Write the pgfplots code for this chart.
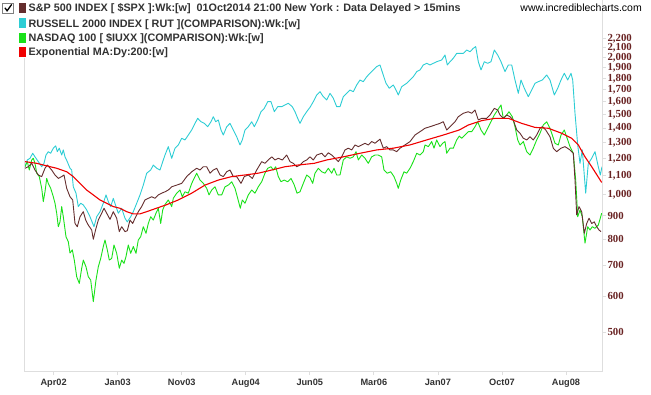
\documentclass[border=0pt]{standalone}
\usepackage{fontspec}
\setmainfont{Liberation Sans}
\newfontfamily\serifb{Liberation Serif}
\usepackage{pgfplots}
\pgfplotsset{compat=1.18}
\definecolor{spx}{RGB}{100,45,45}
\definecolor{rut}{RGB}{45,205,212}
\definecolor{ndx}{RGB}{25,225,25}
\definecolor{ema}{RGB}{240,0,0}
\definecolor{lab}{RGB}{105,35,35}
\definecolor{framec}{RGB}{222,222,222}
\definecolor{txt}{RGB}{50,50,50}
\begin{document}
\begin{tikzpicture}[x=1pt,y=1pt]
\path[use as bounding box] (-24.5,-23) rectangle (626.5,372);
\begin{axis}[at={(0,0)},anchor=south west,scale only axis,width=578pt,height=372pt,
 xmin=24.5,xmax=602.5,ymode=log,ymin=408.6,ymax=2674,
 axis line style={draw=none},
 xtick={53.6,117.65,181.7,245.75,309.8,373.85,437.9,501.95,566},
 xticklabels={Apr02,Jan03,Nov03,Aug04,Jun05,Mar06,Jan07,Oct07,Aug08},
 ytick={500,600,700,800,900,1000,1100,1200,1300,1400,1500,1600,1700,1800,1900,2000,2100,2200},
 yticklabels={500,600,700,800,900,{1,000},{1,100},{1,200},{1,300},{1,400},{1,500},{1,600},{1,700},{1,800},{1,900},{2,000},{2,100},{2,200}},
 yminorticks=false,
 xtick pos=left,ytick pos=right,tick align=outside,major tick length=3.5pt,
 tick style={framec,line width=0.8pt},
 yticklabel style={font=\serifb\bfseries\fontsize{10.8}{12}\selectfont,text=lab,xshift=-2pt},
 xticklabel style={font=\bfseries\fontsize{9.2}{10}\selectfont,text=txt},
 every axis plot/.append style={line join=round},
]
\addplot[rut,line width=0.9pt] coordinates {(25,1152)(27.3,1192)(30,1202)(32.7,1233)(35,1211)(38.3,1182)(41.7,1152)(44,1172)(46,1222)(48.3,1243)(50.7,1233)(53.3,1265)(55.7,1280)(57.3,1243)(59.3,1265)(61.7,1222)(63.3,1254)(65,1211)(67.3,1182)(70,1143)(71.7,1133)(73.3,1041)(76,1008)(78.3,942)(80.7,958)(83.3,950)(86.7,926)(90,895)(94,851)(96.7,895)(100,918)(103.3,958)(106,999)(108.3,966)(110.7,942)(113.3,982)(116,942)(118.3,911)(121.7,934)(125,888)(127.3,872)(130.7,895)(133.3,918)(136.7,958)(140,999)(143.3,1050)(146.7,1115)(150.7,1133)(153.3,1162)(156.7,1143)(160,1133)(163.3,1192)(165,1222)(168.3,1275)(171.7,1202)(175,1265)(178.3,1286)(181.7,1330)(185,1319)(188.3,1352)(191.7,1387)(195,1434)(197.7,1471)(201,1446)(204.3,1434)(207.7,1410)(211,1446)(213.3,1483)(215.7,1446)(218.3,1459)(221,1387)(223.3,1352)(226.7,1410)(230,1434)(233.3,1387)(236.7,1340)(240,1286)(242.3,1319)(245,1387)(248.3,1410)(251.7,1446)(254.3,1410)(257.7,1459)(261,1521)(264.3,1547)(267.7,1600)(271,1600)(274.3,1521)(277.7,1560)(281.7,1560)(285,1574)(288.3,1587)(292.3,1560)(295,1521)(297.7,1471)(300,1434)(303.3,1483)(306.7,1521)(310,1555)(313.3,1600)(316.7,1655)(320,1683)(323.3,1641)(326.7,1614)(330,1669)(333.3,1628)(336.7,1560)(340,1560)(343.3,1641)(346.7,1669)(350,1697)(353.3,1683)(356.7,1741)(360,1785)(363.3,1770)(366.7,1815)(370,1847)(373.3,1878)(376.7,1910)(380,1926)(382.7,1847)(386,1756)(389.3,1712)(393.3,1741)(396,1697)(398.3,1655)(401.7,1726)(406.7,1756)(410,1785)(413.3,1815)(416.7,1862)(420,1878)(423.3,1926)(426.7,1942)(430,1926)(433.3,1942)(436.7,1958)(441.7,1975)(445,2025)(447.3,1926)(450,1958)(453.3,1992)(456.7,2042)(459.3,2042)(463.3,2042)(466.7,2077)(470,2059)(473.3,2095)(475.7,2113)(478.3,1958)(481,1878)(484.3,1958)(487.7,1942)(491,1958)(494.3,2077)(497.7,2025)(501,1958)(505,1862)(508.3,1926)(511.7,1926)(515,1785)(518.3,1669)(521,1785)(524.3,1712)(528.3,1641)(531.7,1697)(535,1756)(538.3,1770)(542.3,1785)(546.7,1831)(550,1785)(554.3,1655)(557.7,1712)(561,1785)(564.3,1847)(567.7,1785)(571,1847)(572.7,1785)(575,1509)(577.7,1286)(580,1172)(582.3,1254)(585.7,1008)(588.3,1172)(591.7,1202)(595,1243)(598.3,1152)(600.3,1105)(602,1152)};
\addplot[ndx,line width=0.9pt] coordinates {(25,1152)(27.3,1182)(29.3,1133)(31.7,1192)(33.3,1202)(35,1172)(36.7,1115)(39.3,1096)(41.7,1033)(43.3,966)(45,1015)(46.7,1086)(48.3,1059)(50.7,1033)(53.3,990)(55,958)(56.7,911)(58.3,851)(60,872)(61.7,942)(63.3,895)(66,809)(68.3,789)(70,745)(72.3,757)(74.3,719)(76.7,661)(79.3,639)(81.7,690)(83.3,719)(86,695)(88.3,661)(90.7,650)(93.3,583)(96,650)(98.3,695)(100.7,725)(103.3,770)(105,796)(107.3,757)(109.3,719)(111.7,725)(114,776)(116.7,744)(119.3,690)(121.7,719)(124,707)(126,732)(128.3,776)(130.7,744)(133.3,770)(136,744)(138.3,796)(140.7,809)(143.3,851)(146,823)(148.3,865)(150.7,895)(153.3,880)(156,911)(158.3,934)(160.7,865)(162.7,926)(165,952)(168.3,974)(171.7,942)(173.3,982)(176.7,1008)(180,1024)(182.3,990)(185,1015)(188.3,1008)(191.7,1059)(195,1096)(196.7,1115)(200,1077)(203.3,1059)(206.7,1033)(209,999)(211.7,1024)(215,1041)(218.3,999)(221.7,999)(225,1041)(228.3,1050)(231.7,1068)(235,1033)(237.7,982)(240.3,934)(242.3,974)(245,958)(248.3,999)(251.7,1024)(255,1008)(258.3,1041)(261.7,1068)(265,1115)(267.7,1143)(271,1152)(273.3,1133)(275.7,1152)(278.3,1096)(281,1068)(284.3,1077)(287.7,1068)(291,1086)(294.3,1050)(297,1008)(300,1015)(303.3,1059)(306.7,1105)(310,1090)(312.7,1059)(315,1115)(318.3,1143)(321.7,1123)(325,1115)(328.3,1143)(331.7,1115)(334,1143)(336.7,1105)(340,1105)(343.3,1192)(346.7,1211)(350,1202)(353.3,1211)(356,1243)(358.3,1192)(361.7,1222)(365,1202)(368.3,1172)(371.7,1211)(375,1222)(378.3,1222)(381.7,1211)(384,1133)(387.3,1115)(390.7,1123)(394,1096)(396.7,1059)(398.3,1033)(400.7,1077)(404,1123)(406.7,1115)(410,1143)(413.3,1182)(416.7,1233)(420,1222)(423.3,1243)(425,1286)(428.3,1275)(431.7,1308)(434,1265)(436.7,1319)(440,1275)(442.7,1297)(445,1308)(446.7,1233)(450,1265)(453.3,1265)(456.7,1319)(459.3,1345)(461.7,1330)(465,1352)(468.3,1375)(471.7,1375)(475,1410)(477.7,1446)(481,1387)(484.3,1352)(487.7,1399)(491,1446)(494.3,1496)(497.7,1534)(501,1574)(503.3,1471)(506.7,1496)(509,1521)(512.3,1483)(515,1410)(517.7,1319)(520,1286)(523.3,1308)(526.7,1243)(530,1222)(533.3,1265)(536.7,1319)(540,1364)(543.3,1422)(546.7,1446)(550,1399)(552.3,1352)(555,1297)(558.3,1286)(561,1352)(564.3,1387)(567.7,1319)(570,1275)(573.3,1233)(575.7,1077)(577.7,895)(580,926)(582.3,895)(585,783)(587.7,851)(590,837)(592.3,851)(595,844)(598.3,858)(601.7,911)};
\addplot[spx,line width=0.9pt] coordinates {(25,1143)(28.3,1152)(31.7,1172)(35,1133)(38.3,1105)(41.7,1096)(45,1143)(47.3,1162)(51.7,1133)(55,1105)(58.3,1086)(61.7,1096)(64,1105)(66.7,1033)(70,990)(72.7,974)(75,865)(77.3,851)(80,895)(83.3,918)(85.7,880)(88.3,858)(91.7,837)(93.3,799)(96,844)(98.3,880)(101.7,911)(104,934)(106.7,911)(110,883)(113.3,918)(116.7,888)(119.3,830)(121.7,851)(125,830)(127.3,834)(130,880)(132.7,865)(135,888)(138.3,918)(141.7,942)(145,974)(148.3,982)(151.7,990)(155,982)(158.3,999)(161.7,1008)(165,1015)(168.3,1024)(171.7,1041)(176.7,1050)(181.7,1059)(186.7,1096)(191.7,1123)(196.7,1143)(200,1133)(203.3,1152)(206.7,1152)(210,1115)(213.3,1133)(216.7,1143)(220,1105)(223.3,1096)(226.7,1123)(230,1133)(233.3,1096)(236.7,1096)(241,1059)(244.3,1096)(248.3,1105)(252.3,1086)(256.7,1133)(261.7,1182)(265,1172)(268.3,1192)(271.7,1211)(275,1192)(278.3,1202)(282.3,1192)(286.7,1222)(290,1182)(293.3,1172)(296.7,1152)(300,1162)(303.3,1182)(306.7,1192)(310,1211)(313.3,1192)(316.7,1222)(321.7,1233)(325,1211)(328.3,1236)(331.7,1222)(335,1202)(338.3,1182)(341.7,1211)(345,1254)(348.3,1265)(351.7,1254)(355,1286)(358.3,1275)(361.7,1286)(365,1297)(368.3,1286)(371.7,1308)(375,1297)(380,1324)(383.3,1265)(386.7,1275)(390,1254)(393.3,1254)(396.7,1243)(400,1265)(405,1286)(410,1308)(415,1352)(420,1375)(425,1399)(430,1410)(435,1422)(440,1434)(443.3,1446)(446.7,1387)(450,1410)(455,1446)(458.3,1483)(463.3,1509)(468.3,1521)(471.7,1509)(475,1534)(478.3,1459)(481.7,1471)(486.7,1471)(490,1496)(494.3,1547)(497.7,1534)(500,1496)(503.3,1471)(506.7,1496)(510,1483)(513.3,1459)(516.7,1387)(520,1364)(523.3,1330)(526.7,1319)(530,1340)(533.3,1319)(536.7,1352)(540,1399)(542.3,1410)(545.7,1387)(550,1340)(553.3,1265)(556.7,1243)(561,1265)(565,1275)(570,1254)(573.3,1233)(575,1077)(576.7,903)(579,942)(581.7,918)(584.3,823)(586.7,865)(589,888)(591.7,865)(594.3,872)(596.7,851)(599,837)(601,830)};
\addplot[ema,line width=1.1pt] coordinates {(25,1182)(36.7,1172)(46.7,1157)(56.7,1143)(66.7,1123)(73.3,1096)(80,1059)(86.7,1024)(93.3,999)(100,974)(106.7,958)(113.3,942)(120,934)(126.7,918)(133.3,908)(140,908)(146.7,918)(153.3,929)(160,940)(165,948)(178.3,974)(191.7,1008)(205,1050)(218.3,1077)(231.7,1096)(245,1105)(258.3,1115)(271.7,1133)(285,1152)(298.3,1162)(314.3,1172)(326.7,1192)(343.3,1211)(360,1233)(376.7,1254)(393.3,1265)(410,1286)(426.7,1319)(443.3,1352)(459.3,1387)(468.3,1422)(481.7,1454)(495,1471)(508.3,1471)(521.7,1434)(535,1405)(548.3,1399)(561.7,1364)(571.7,1330)(578.3,1286)(585,1211)(591.7,1152)(601.7,1064)};
\end{axis}
\draw[framec,line width=1pt] (0,314) -- (0,0) -- (578,0) -- (578,372);
% header / legend
\draw[gray,line width=0.6pt,fill=white] (-21.8,358.7) rectangle (-11.2,368.7);
\draw[black,line width=1.3pt] (-19.6,364.2) -- (-17.4,361.2) -- (-12.8,367.6);
\fill[spx] (-5,359.2) rectangle (1.5,369.2);
\fill[rut] (-5,343.8) rectangle (1.5,353.8);
\fill[ndx] (-5,329.2) rectangle (1.5,339.2);
\fill[ema] (-5,314.8) rectangle (1.5,324.8);
\begin{scope}[every node/.style={inner sep=0pt,anchor=base west,text=txt,font=\bfseries\fontsize{10.8}{12}\selectfont}]
\node at (4,360.3) {S\&P 500 INDEX [ \$SPX ]:Wk:[w]\ \ 01Oct2014 21:00 New York : Data Delayed > 15mins};
\node at (4,344.7) {RUSSELL 2000 INDEX [ RUT ](COMPARISON):Wk:[w]};
\node at (4,330.7) {NASDAQ 100 [ \$IUXX ](COMPARISON):Wk:[w]};
\node at (4,316.3) {Exponential MA:Dy:200:[w]};
\end{scope}
\node[inner sep=0pt,anchor=base east,font=\fontsize{10.5}{12}\selectfont] at (617.5,360.5) {www.incrediblecharts.com};
\end{tikzpicture}
\end{document}
